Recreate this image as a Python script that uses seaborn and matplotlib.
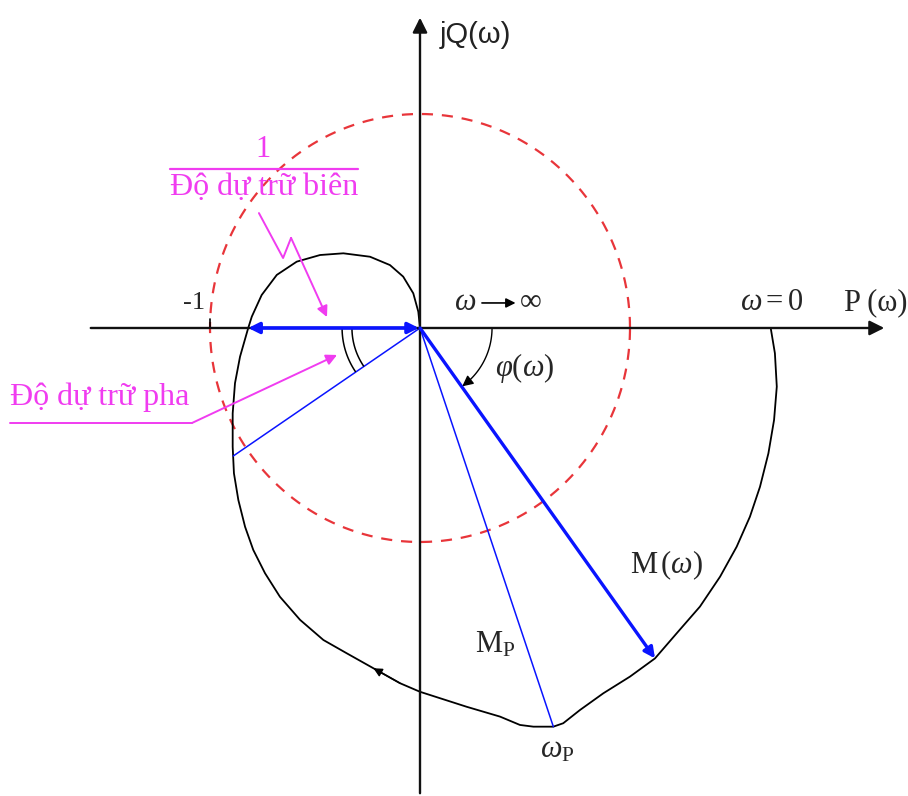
import numpy as np
import pandas as pd
import matplotlib
matplotlib.use("Agg")
import matplotlib.pyplot as plt
import seaborn as sns

# Nyquist locus W(jω), from ω = 0 (on the positive real axis) to ω → ∞ (origin)
nyq_re = [1.670, 1.690, 1.699, 1.686, 1.659, 1.619, 1.571, 1.508, 1.429, 1.333,
          1.222, 1.119, 1.000, 0.873, 0.762, 0.682, 0.635, 0.540, 0.476, 0.381,
          0.222, 0.000, -0.095, -0.222, -0.349, -0.460, -0.571, -0.667, -0.738,
          -0.794, -0.833, -0.865, -0.886, -0.892, -0.892, -0.881, -0.857, -0.818,
          -0.801, -0.754, -0.682, -0.587, -0.476, -0.365, -0.238, -0.143, -0.080,
          -0.032, -0.008, 0.000]
nyq_im = [0.000, -0.118, -0.274, -0.430, -0.586, -0.742, -0.882, -1.022, -1.162,
          -1.302, -1.427, -1.544, -1.629, -1.707, -1.785, -1.847, -1.863, -1.863,
          -1.855, -1.816, -1.770, -1.700, -1.660, -1.590, -1.520, -1.458, -1.364,
          -1.256, -1.146, -1.037, -0.929, -0.804, -0.679, -0.555, -0.399, -0.258,
          -0.134, 0.000, 0.053, 0.154, 0.248, 0.310, 0.341, 0.349, 0.333, 0.294,
          0.240, 0.162, 0.076, 0.000]

# Key vectors (end points, real / imaginary parts)
gain_cross = -0.818            # crossing of the negative real axis
phase_pt = (-0.889, -0.598)    # crossing of the unit circle
m_vec = (1.119, -1.544)        # M(ω) vector
mp_vec = (0.635, -1.863)       # resonance peak M_p at ω_p

# Annotation geometry
zigzag_x = [-0.767, -0.652, -0.614, -0.443]
zigzag_y = [0.537, 0.327, 0.421, 0.051]
leader_x = [-1.952, -1.086, -0.395]
leader_y = [-0.444, -0.444, -0.126]

MAGENTA = "#f03cf0"
BLUE = "#0a14ff"
RED = "#e8353a"

sns.set_theme(style="white")
plt.rcParams["font.family"] = ["Liberation Serif", "DejaVu Serif"]
plt.rcParams["mathtext.fontset"] = "custom"
plt.rcParams["mathtext.rm"] = "Liberation Serif"
plt.rcParams["mathtext.it"] = "Liberation Serif:italic"

fig = plt.figure(figsize=(9.08, 7.96), dpi=100)
ax = fig.add_axes([0, 0, 1, 1])
ax.set_xlim(-2.0, 2.3238)
ax.set_ylim(-2.187, 1.5327)
ax.axis("off")
YS = 210 / 214  # keeps arcs round on screen

# Coordinate axes with arrows
ax.annotate("", xy=(2.224, 0), xytext=(-1.581, 0),
            arrowprops=dict(arrowstyle="-|>", color="#111111", lw=1.7, mutation_scale=22))
ax.annotate("", xy=(0, 1.463), xytext=(0, -2.187),
            arrowprops=dict(arrowstyle="-|>", color="#111111", lw=1.7, mutation_scale=22))

# Unit circle
t = np.linspace(0, 2 * np.pi, 400)
circ = pd.DataFrame({"x": np.cos(t), "y": np.sin(t)})
ax.plot(circ["x"], circ["y"], color=RED, lw=1.6, dashes=(5, 4))

# Nyquist locus
nyq = pd.DataFrame({"re": nyq_re, "im": nyq_im})
sns.lineplot(data=nyq, x="re", y="im", sort=False, estimator=None,
             color="black", lw=1.3, ax=ax)
# direction arrow on the locus
ax.annotate("", xy=(nyq_re[23], nyq_im[23]), xytext=(nyq_re[22], nyq_im[22]),
            arrowprops=dict(arrowstyle="-|>", color="black", lw=1.0, mutation_scale=13,
                            shrinkA=0, shrinkB=0))

# -1 tick
ax.plot([-1.0, -1.0], [0, 0.04], color="black", lw=1.2)

# Gain margin (double arrow on the real axis)
ax.annotate("", xy=(gain_cross, 0), xytext=(-0.005, 0),
            arrowprops=dict(arrowstyle="<|-|>", color=BLUE, lw=2.6, mutation_scale=16,
                            shrinkA=0, shrinkB=0))

# Phase-margin line and angle marks
ax.plot([0, phase_pt[0]], [0, phase_pt[1]], color=BLUE, lw=1.1)
ang_pm = np.arctan2(phase_pt[1], phase_pt[0]) % (2 * np.pi)
a = np.linspace(np.pi, ang_pm, 60)
for r in (0.371, 0.324):
    ax.plot(r * np.cos(a), r * np.sin(a) * YS, color="black", lw=1.1)

# M_p and M(ω)
ax.plot([0, mp_vec[0]], [0, mp_vec[1]], color=BLUE, lw=1.1)
ax.annotate("", xy=m_vec, xytext=(0, 0),
            arrowprops=dict(arrowstyle="-|>", color=BLUE, lw=2.4, mutation_scale=16,
                            shrinkA=0, shrinkB=0))

# φ(ω) arc
ang_m = np.arctan2(m_vec[1], m_vec[0])
a2 = np.linspace(0, ang_m, 60)
rphi = 0.343
ax.plot(rphi * np.cos(a2[:-6]), rphi * np.sin(a2[:-6]) * YS, color="black", lw=1.0)
ax.annotate("", xy=(rphi * np.cos(a2[-1]), rphi * np.sin(a2[-1]) * YS),
            xytext=(rphi * np.cos(a2[-7]), rphi * np.sin(a2[-7]) * YS),
            arrowprops=dict(arrowstyle="-|>", color="black", lw=1.0, mutation_scale=16,
                            shrinkA=0, shrinkB=0))

# Labels
fs = 22
ax.text(0.095, 1.369, "jQ(ω)", fontsize=21, family=["Liberation Sans", "DejaVu Sans"],
        ha="left", va="center", color="#222222")
ax.text(2.020, 0.117, "P\u2009(ω)", fontsize=fs, ha="left", va="center")
ax.text(-1.024, 0.117, "-1", fontsize=19, ha="right", va="center")
ax.text(0.167, 0.117, "ω", fontsize=fs, style="italic", ha="left", va="center")
ax.annotate("", xy=(0.455, 0.117), xytext=(0.295, 0.117),
            arrowprops=dict(arrowstyle="-|>", color="black", lw=1.2, mutation_scale=14,
                            shrinkA=0, shrinkB=0))
ax.text(0.476, 0.117, "∞", fontsize=fs, ha="left", va="center")
ax.text(1.524, 0.117, r"$\omega = 0$", fontsize=fs, ha="left", va="center")
ax.text(0.357, -0.187, r"$\varphi(\omega)$", fontsize=fs, ha="left", va="center")
ax.text(1.0, -1.107, r"$\mathrm{M}\,(\omega)$", fontsize=fs, ha="left", va="center")
ax.text(0.262, -1.481, r"$\mathrm{M}_{\mathrm{P}}$", fontsize=fs, ha="left", va="center")
ax.text(0.571, -1.972, r"$\omega_{\mathrm{P}}$", fontsize=fs, ha="left", va="center")

# Gain-margin annotation (magenta)
ax.text(-0.748, 0.835, "1", fontsize=fs, color=MAGENTA, ha="center", va="center")
ax.plot([-1.190, -0.295], [0.743, 0.743], color=MAGENTA, lw=1.6)
ax.text(-0.743, 0.655, "Độ dự trữ biên", fontsize=23, color=MAGENTA,
        ha="center", va="center")
ax.plot(zigzag_x[:-1], zigzag_y[:-1], color=MAGENTA, lw=1.4)
ax.annotate("", xy=(zigzag_x[-1], zigzag_y[-1]), xytext=(zigzag_x[-2], zigzag_y[-2]),
            arrowprops=dict(arrowstyle="-|>", color=MAGENTA, lw=1.4, mutation_scale=16,
                            shrinkA=0, shrinkB=0))

# Phase-margin annotation (magenta)
ax.text(-1.952, -0.322, "Độ dự trữ pha", fontsize=23, color=MAGENTA,
        ha="left", va="center")
ax.plot(leader_x[:-1], leader_y[:-1], color=MAGENTA, lw=1.4)
ax.annotate("", xy=(leader_x[-1], leader_y[-1]), xytext=(leader_x[-2], leader_y[-2]),
            arrowprops=dict(arrowstyle="-|>", color=MAGENTA, lw=1.4, mutation_scale=16,
                            shrinkA=0, shrinkB=0))

fig.savefig("out.png", dpi=100)
